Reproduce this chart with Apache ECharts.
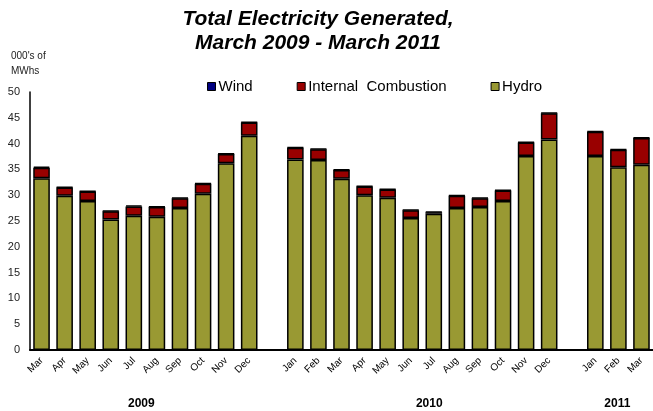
<!DOCTYPE html>
<html>
<head>
<meta charset="utf-8">
<script src="https://cdn.jsdelivr.net/npm/echarts@6/dist/echarts.min.js"></script>
<style>html,body{margin:0;padding:0;background:#fff}#c{width:653px;height:411px}</style>
</head>
<body>
<div id="c"></div>
<script>
var categories = ['Mar','Apr','May','Jun','Jul','Aug','Sep','Oct','Nov','Dec','','Jan','Feb','Mar','Apr','May','Jun','Jul','Aug','Sep','Oct','Nov','Dec','','Jan','Feb','Mar'];
var hydro = [33.3,29.9,28.9,25.3,26.0,25.8,27.5,30.3,36.2,41.5,'-',36.9,36.8,33.2,30.0,29.5,25.6,26.4,27.5,27.7,28.9,37.6,40.8,'-',37.6,35.4,35.9];
var internalCombustion = [2.0,1.6,1.8,1.6,1.8,1.9,1.9,1.9,1.8,2.6,'-',2.3,2.1,1.7,1.7,1.6,1.5,0.3,2.4,1.7,2.0,2.6,5.1,'-',4.7,3.4,5.2];
var wind = [0.2,0.1,0.1,0.1,0.2,0.1,0.1,0.1,0.1,0.1,'-',0.1,0.1,0.1,0.1,0.1,0.1,0.1,0.1,0.1,0.1,0.1,0.1,'-',0.1,0.1,0.1];
var yearLabels = ['2009','2010','2011'];
var yTicks = {min: 0, max: 50, interval: 5};

var chart = echarts.init(document.getElementById('c'), null, {renderer: 'canvas'});
var font = 'Liberation Sans, Arial, sans-serif';
var border = {borderColor: '#000', borderWidth: 1.5};
chart.setOption({
  animation: false,
  legend: {
    data: ['Wind', 'Internal  Combustion', 'Hydro'],
    left: 207, top: 79, padding: 0,
    itemWidth: 8, itemHeight: 8, itemGap: 44,
    icon: 'rect',
    itemStyle: {borderColor: '#000', borderWidth: 1},
    textStyle: {fontFamily: font, fontSize: 15, color: '#000', padding: [0, 0, 0, -2]}
  },
  grid: {left: 30, right: -9, top: 92, bottom: 61, containLabel: false},
  xAxis: {
    type: 'category',
    data: categories,
    axisLine: {lineStyle: {color: '#000', width: 2}},
    axisTick: {show: false},
    axisLabel: {rotate: 45, margin: 9, fontFamily: font, fontSize: 10, color: '#000', interval: 0}
  },
  yAxis: {
    type: 'value',
    min: yTicks.min, max: yTicks.max, interval: yTicks.interval,
    axisLine: {show: true, lineStyle: {color: '#000', width: 1.5}},
    axisTick: {show: false},
    splitLine: {show: false},
    axisLabel: {fontFamily: font, fontSize: 11, color: '#222', margin: 10}
  },
  series: [
    {name: 'Hydro', type: 'bar', stack: 's', data: hydro, barWidth: '72%', itemStyle: Object.assign({color: '#999933'}, border)},
    {name: 'Internal  Combustion', type: 'bar', stack: 's', data: internalCombustion, itemStyle: Object.assign({color: '#990000'}, border)},
    {name: 'Wind', type: 'bar', stack: 's', data: wind, itemStyle: Object.assign({color: '#000080'}, border)}
  ]
});

// title, unit label and year labels
var g = [
  {type: 'text', x: 318, y: 7, style: {text: 'Total Electricity Generated,\nMarch 2009 - March 2011', font: 'italic bold 21px ' + font, fill: '#000', align: 'center', lineHeight: 24}},
  {type: 'text', x: 11, y: 49, style: {text: "000's of\nMWhs", font: '10px ' + font, fill: '#222', lineHeight: 15}}
];
var groups = [[0, 9], [11, 22], [24, 26]];
var shifts = [-4, 7, -1];
groups.forEach(function (r, i) {
  var x1 = chart.convertToPixel({xAxisIndex: 0}, r[0]);
  var x2 = chart.convertToPixel({xAxisIndex: 0}, r[1]);
  g.push({type: 'text', x: (x1 + x2) / 2 + shifts[i], y: 398,
    style: {text: yearLabels[i], font: 'bold 12px ' + font, fill: '#000', align: 'center'}});
});
chart.setOption({graphic: g});
</script>
</body>
</html>
